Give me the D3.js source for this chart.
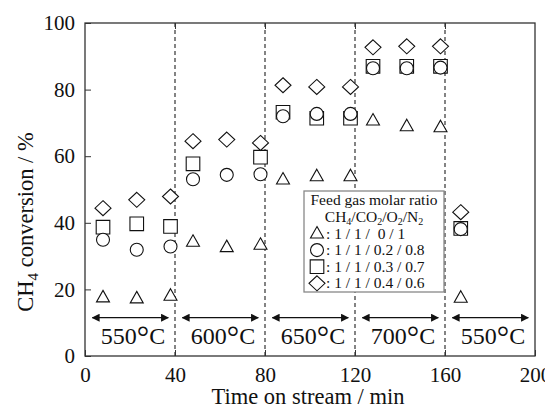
<!DOCTYPE html>
<html>
<head>
<meta charset="utf-8">
<script src="https://cdn.jsdelivr.net/npm/d3@7"></script>
<style>
  body { margin: 0; background: #fff; }
</style>
</head>
<body>
<div id="chart"></div>
<script>
// Time on stream (min) for each sample
const times = [8, 23, 38, 48, 63, 78, 88, 103, 118, 128, 143, 158, 167];
// CH4 conversion (%) per feed gas ratio
const triVals = [17.6, 17.3, 18.1, 34.3, 32.7, 33.4, 53.0, 54.0, 54.0, 70.7, 69.0, 68.7, 17.5];
const circVals = [34.9, 31.9, 32.9, 53.1, 54.4, 54.6, 72.0, 72.7, 72.7, 86.4, 86.4, 86.6, 38.1];
const sqVals = [38.7, 39.7, 38.9, 57.7, null, 59.7, 73.2, 71.4, 71.4, 87.0, 87.0, 87.0, 38.3];
const diaVals = [44.4, 46.9, 47.9, 64.5, 65.0, 64.0, 81.3, 80.8, 80.8, 92.7, 93.0, 93.0, 43.2];

// Temperature stages
const stageBounds = [0, 40, 80, 120, 160, 200];
const stageTemps = ["550", "600", "650", "700", "550"];

const xTicks = [0, 40, 80, 120, 160, 200];
const yTicks = [0, 20, 40, 60, 80, 100];

const legendRows = [
    { shape: "tri", text: ": 1 / 1 /  0 / 1" },
    { shape: "circ", text: ": 1 / 1 / 0.2 / 0.8" },
    { shape: "sq", text: ": 1 / 1 / 0.3 / 0.7" },
    { shape: "dia", text: ": 1 / 1 / 0.4 / 0.6" }
];

const FONT = '"Liberation Serif", "Times New Roman", serif';
const W = 545, H = 411;
const margin = { top: 23, right: 10, bottom: 55, left: 85 };
const width = W - margin.left - margin.right;
const height = H - margin.top - margin.bottom;

const svg = d3.select("#chart").append("svg")
    .attr("width", W)
    .attr("height", H);

const g = svg.append("g")
    .attr("transform", `translate(${margin.left},${margin.top})`);

const x = d3.scaleLinear().domain([0, 200]).range([0, width]);
const y = d3.scaleLinear().domain([0, 100]).range([height, 0]);

// Dashed stage separators
g.selectAll(".sep")
    .data(stageBounds.slice(1, -1))
    .enter().append("line")
    .attr("x1", d => x(d)).attr("x2", d => x(d))
    .attr("y1", 0).attr("y2", height)
    .attr("stroke", "#333")
    .attr("stroke-width", 1.2)
    .attr("stroke-dasharray", "4 3");

function styleAxis(a) {
    a.select(".domain").remove();
    a.selectAll("line").attr("stroke", "#333");
    a.selectAll("text")
        .style("font-family", FONT)
        .style("font-size", "21px")
        .attr("fill", "#111");
}

// Axes (ticks pointing inward)
g.append("g")
    .attr("transform", `translate(0,${height})`)
    .call(d3.axisBottom(x).tickValues(xTicks).tickSize(-6).tickPadding(11))
    .call(styleAxis);

g.append("g")
    .call(d3.axisLeft(y).tickValues(yTicks).tickSize(-6).tickPadding(10))
    .call(styleAxis);

g.append("g")
    .call(d3.axisTop(x).tickValues(xTicks.slice(1, -1)).tickSize(-6).tickFormat(""))
    .call(styleAxis);

// Frame
g.append("rect")
    .attr("width", width).attr("height", height)
    .attr("fill", "none")
    .attr("stroke", "#333")
    .attr("stroke-width", 1.3);

// Stage arrows and labels
const defs = svg.append("defs");
["arrEnd", "arrStart"].forEach((id, i) => {
    defs.append("marker")
        .attr("id", id)
        .attr("viewBox", "0 0 10 10")
        .attr("refX", i === 0 ? 9 : 1).attr("refY", 5)
        .attr("markerWidth", 8).attr("markerHeight", 8)
        .attr("markerUnits", "userSpaceOnUse")
        .attr("orient", "auto")
        .append("path")
        .attr("d", i === 0 ? "M0,0 L10,5 L0,10 Z" : "M10,0 L0,5 L10,10 Z")
        .attr("fill", "#111");
});

const stages = stageTemps.map((t, i) => ({ t, a: stageBounds[i], b: stageBounds[i + 1] }));

g.selectAll(".arrow")
    .data(stages)
    .enter().append("line")
    .attr("x1", d => x(d.a + 3.3)).attr("x2", d => x(d.b - 3))
    .attr("y1", y(11.5)).attr("y2", y(11.5))
    .attr("stroke", "#111")
    .attr("stroke-width", 1.2)
    .attr("marker-start", "url(#arrStart)")
    .attr("marker-end", "url(#arrEnd)");

const stageText = g.selectAll(".stage")
    .data(stages)
    .enter().append("text")
    .attr("x", d => x((d.a + d.b) / 2) + 3)
    .attr("y", y(3.5))
    .attr("text-anchor", "middle")
    .style("font-family", FONT)
    .style("font-size", "24px")
    .attr("fill", "#111");
stageText.append("tspan").text(d => d.t);
stageText.append("tspan").attr("dy", 4).style("font-size", "31px").text("°");
stageText.append("tspan").attr("dy", -4).text("C");

// Marker shapes
const shapes = {
    tri: "M0,-7 L6.5,4.5 L-6.5,4.5 Z",
    circ: "M6.5,0 A6.5,6.5 0 1,1 -6.5,0 A6.5,6.5 0 1,1 6.5,0 Z",
    sq: "M-6.8,-6.8 L6.8,-6.8 L6.8,6.8 L-6.8,6.8 Z",
    dia: "M0,-7.5 L8,0 L0,7.5 L-8,0 Z"
};

const series = [
    { shape: "tri", vals: triVals },
    { shape: "sq", vals: sqVals },
    { shape: "circ", vals: circVals },
    { shape: "dia", vals: diaVals }
];

series.forEach(s => {
    const pts = times.map((t, i) => ({ t, v: s.vals[i] })).filter(d => d.v != null);
    g.selectAll(`.pt-${s.shape}`)
        .data(pts)
        .enter().append("path")
        .attr("d", shapes[s.shape])
        .attr("transform", d => `translate(${x(d.t)},${y(d.v)})`)
        .attr("fill", "#fff")
        .attr("stroke", "#111")
        .attr("stroke-width", 1.1);
});

// Legend
const lg = svg.append("g").attr("transform", "translate(304,191)");
lg.append("rect")
    .attr("width", 140).attr("height", 101)
    .attr("fill", "#fff")
    .attr("stroke", "#888")
    .attr("stroke-width", 1.3);

lg.append("text")
    .attr("x", 70).attr("y", 13.5)
    .attr("text-anchor", "middle")
    .style("font-family", FONT)
    .style("font-size", "15.5px")
    .attr("fill", "#111")
    .text("Feed gas molar ratio");

const sub = lg.append("text")
    .attr("x", 70).attr("y", 30.5)
    .attr("text-anchor", "middle")
    .style("font-family", FONT)
    .style("font-size", "15.5px")
    .attr("fill", "#111");
const formula = [["CH", "4"], ["/CO", "2"], ["/O", "2"], ["/N", "2"]];
formula.forEach(([t, s], i) => {
    sub.append("tspan").attr("dy", i === 0 ? 0 : -3).text(t);
    sub.append("tspan").attr("dy", 3).style("font-size", "10px").text(s);
});

legendRows.forEach((r, i) => {
    const yy = 46.5 + i * 16.6;
    lg.append("path")
        .attr("d", shapes[r.shape])
        .attr("transform", `translate(13,${yy - 4})`)
        .attr("fill", "#fff")
        .attr("stroke", "#111")
        .attr("stroke-width", 1.1);
    lg.append("text")
        .attr("x", 22).attr("y", yy + 1)
        .style("font-family", FONT)
        .style("font-size", "15.5px")
        .style("white-space", "pre")
        .attr("fill", "#111")
        .text(r.text);
});

// Axis titles
svg.append("text")
    .attr("x", margin.left + width / 2 - 2)
    .attr("y", 404)
    .attr("text-anchor", "middle")
    .style("font-family", FONT)
    .style("font-size", "22.5px")
    .attr("fill", "#111")
    .text("Time on stream / min");

const yt = svg.append("text")
    .attr("transform", "translate(33,222) rotate(-90)")
    .attr("text-anchor", "middle")
    .style("font-family", FONT)
    .style("font-size", "22.5px")
    .attr("fill", "#111");
yt.append("tspan").text("CH");
yt.append("tspan").style("font-size", "15px").attr("dy", 5).text("4");
yt.append("tspan").attr("dy", -5).text(" conversion / %");
</script>
</body>
</html>
